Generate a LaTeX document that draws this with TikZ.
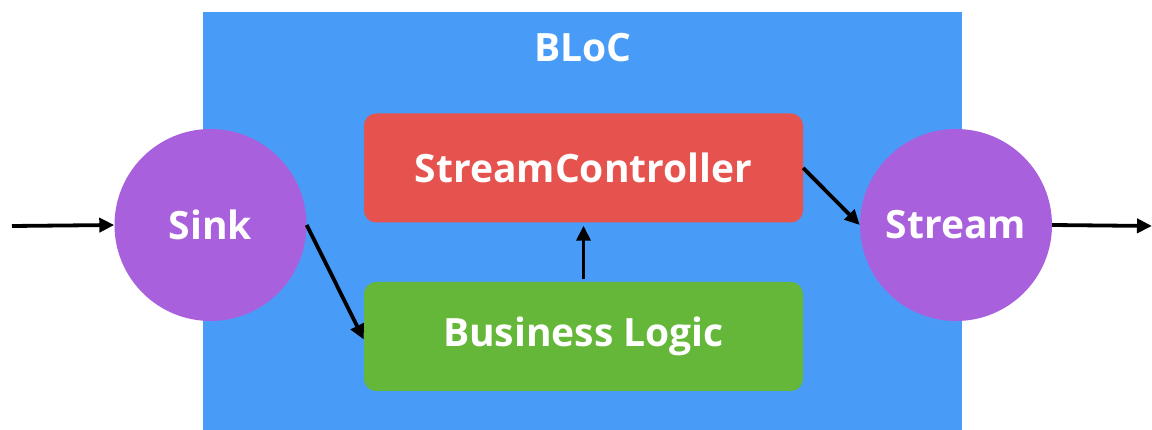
\documentclass[tikz,border=0pt]{standalone}
\usepackage{fontspec}
\setmainfont{Open Sans}
\usetikzlibrary{arrows.meta}
\definecolor{blocblue}{RGB}{72,156,248}
\definecolor{sinkpurple}{RGB}{169,96,221}
\definecolor{scred}{RGB}{230,83,79}
\definecolor{blgreen}{RGB}{101,183,58}
\tikzset{
  lbl/.style={text=white,font=\fontsize{39}{44}\selectfont\bfseries},
  circ/.style={circle,fill=sinkpurple,minimum size=192pt,inner sep=0pt,lbl},
  box/.style={rectangle,rounded corners=12pt,minimum width=439pt,minimum height=109pt,inner sep=0pt,lbl},
  arr/.style={line width=3.8pt,-{Triangle[length=15pt,width=14pt]}}
}
\begin{document}
\begin{tikzpicture}[x=1pt,y=-1pt]
\useasboundingbox (0,0) rectangle (1152,430);
\fill[blocblue] (203,12) rectangle (962,430);
\node[lbl] (bloc) at (583,48) {BLoC};
\node[circ] (sink) at (210.5,225) {\raisebox{-3pt}{Sink}};
\node[circ] (stream) at (956,225) {\raisebox{-3pt}{Stream}};
\node[box,fill=scred] (sc) at (583.5,168) {StreamController};
\node[box,fill=blgreen] (bl) at (583.5,336.5) {Business Logic};
\coordinate (in) at (12,226);
\coordinate (out) at (1152,226);
\draw[arr] (in) -- (sink.west);
\draw[arr] (sink.east) -- ([yshift=-3pt]bl.west);
\draw[arr,shorten <=3pt,shorten >=3pt] (bl.north) -- (sc.south);
\draw[arr] (sc.east) -- (stream.west);
\draw[arr] (stream.east) -- (out);
\end{tikzpicture}
\end{document}
